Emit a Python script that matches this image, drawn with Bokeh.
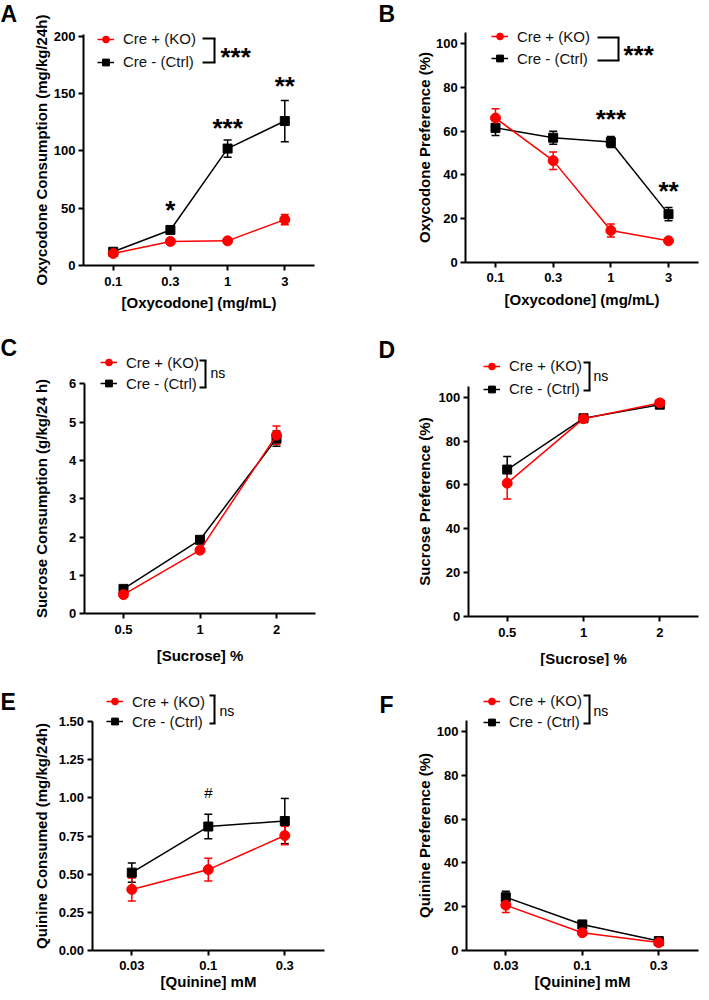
from bokeh.plotting import figure
from bokeh.layouts import column, row
from bokeh.models import (Range1d, FixedTicker, Whisker, TeeHead, ColumnDataSource,
                          Label, Arrow, Legend, LegendItem)
from bokeh.embed import file_html
from bokeh.resources import INLINE

FONT = "Liberation Sans"
RED = "#FF0000"
BLACK = "#000000"

# ---------------- data ----------------
oxy_conc = ["0.1", "0.3", "1", "3"]
oxy_cons_ko = [10.5, 21.0, 21.5, 40.0]
oxy_cons_ko_sem = [1.5, 1.5, 1.5, 4.5]
oxy_cons_ctrl = [12.0, 31.0, 102.0, 126.0]
oxy_cons_ctrl_sem = [1.5, 2.0, 7.5, 18.0]
oxy_cons_sig = ["", "*", "***", "**"]
oxy_cons_yticks = [0, 50, 100, 150, 200]

oxy_pref_ko = [66.0, 46.5, 14.5, 9.8]
oxy_pref_ko_sem = [4.3, 4.0, 3.0, 0.6]
oxy_pref_ctrl = [61.5, 57.0, 55.0, 22.0]
oxy_pref_ctrl_sem = [3.5, 3.0, 2.5, 3.0]
oxy_pref_sig = ["", "", "***", "**"]

pref_yticks = [0, 20, 40, 60, 80, 100]

suc_conc = ["0.5", "1", "2"]
suc_cons_ko = [0.50, 1.66, 4.66]
suc_cons_ko_sem = [0.05, 0.05, 0.24]
suc_cons_ctrl = [0.65, 1.93, 4.57]
suc_cons_ctrl_sem = [0.05, 0.06, 0.20]
suc_cons_yticks = [0, 1, 2, 3, 4, 5, 6]

suc_pref_ko = [60.8, 90.2, 97.4]
suc_pref_ko_sem = [7.2, 1.0, 0.8]
suc_pref_ctrl = [67.0, 90.4, 96.6]
suc_pref_ctrl_sem = [6.0, 1.0, 0.8]

qui_conc = ["0.03", "0.1", "0.3"]
qui_cons_ko = [0.40, 0.53, 0.753]
qui_cons_ko_sem = [0.075, 0.075, 0.06]
qui_cons_ctrl = [0.51, 0.812, 0.848]
qui_cons_ctrl_sem = [0.063, 0.08, 0.148]
qui_cons_sig = ["", "#", ""]
qui_cons_yticks = [0, 0.25, 0.5, 0.75, 1.0, 1.25, 1.5]
qui_cons_ytick_labels = ["0.00", "0.25", "0.50", "0.75", "1.00", "1.25", "1.50"]

qui_pref_ko = [20.7, 8.1, 3.6]
qui_pref_ko_sem = [3.4, 0.8, 0.5]
qui_pref_ctrl = [24.3, 11.9, 4.3]
qui_pref_ctrl_sem = [2.7, 1.2, 0.6]

group_labels = ["Cre + (KO)", "Cre - (Ctrl)"]

# where the layout's top-left corner lands in the picture
OX, OY = 8, 0


def make_panel(c):
    fx0, fy0, w, h = c["box"]           # picture position/size of the figure
    L, R, B, k = c["axes"]              # axis left, right, bottom (px), px per y unit
    c0, s = c["cats_px"]                # px of first category, px per category
    n = len(c["cats"])

    def dx(px):
        return (px - c0) / s

    def dy(py):
        return (B - py) / k

    p = figure(width=w, height=h, output_backend="svg", toolbar_location=None,
               x_range=Range1d(dx(fx0), dx(fx0 + w)), y_range=Range1d(dy(fy0 + h), dy(fy0)),
               min_border=0, min_border_left=0, min_border_right=0,
               min_border_top=0, min_border_bottom=0,
               background_fill_color="white", border_fill_color="white")
    p.title.visible = False
    p.outline_line_color = None
    p.grid.visible = False

    for ax in (p.xaxis[0], p.yaxis[0]):
        ax.axis_line_width = 2
        ax.axis_line_color = BLACK
        ax.major_tick_line_width = 2
        ax.major_tick_line_color = BLACK
        ax.major_tick_in = 0
        ax.major_tick_out = 5
        ax.minor_tick_line_color = None
        ax.major_label_text_font = FONT
        ax.major_label_text_font_style = "bold"
        ax.major_label_text_font_size = "13px"
        ax.major_label_text_color = BLACK
        ax.axis_label_text_font = FONT
        ax.axis_label_text_font_style = "bold"
        ax.axis_label_text_font_size = "15px"
        ax.axis_label_text_color = BLACK

    xa = p.xaxis[0]
    xa.fixed_location = 0
    xa.bounds = (dx(L), dx(R))
    xa.ticker = FixedTicker(ticks=list(range(n)))
    xa.major_label_overrides = {i: lab for i, lab in enumerate(c["cats"])}
    xa.major_label_standoff = c.get("xlso", 6)
    xa.axis_label = c["xtitle"]
    xa.axis_label_standoff = c["xstand"]

    ya = p.yaxis[0]
    ya.fixed_location = dx(L)
    ya.bounds = (0, c["ytop"])
    ya.ticker = FixedTicker(ticks=c["yticks"])
    if c.get("ylabels"):
        ya.major_label_overrides = {t: lab for t, lab in zip(c["yticks"], c["ylabels"])}
    ya.major_label_standoff = 3
    ya.axis_label = c["ytitle"]
    ya.axis_label_standoff = c["ystand"]

    xs = list(range(n))
    ko, ko_e, ct, ct_e = c["ko"], c["ko_e"], c["ct"], c["ct_e"]

    rends = {}
    for key, vals, errs, col, marker, size in (
            ("ct", ct, ct_e, BLACK, "square", 9),
            ("ko", ko, ko_e, RED, "circle", 10)):
        src = ColumnDataSource(dict(x=xs, y=vals,
                                    upper=[v + e for v, e in zip(vals, errs)],
                                    lower=[v - e for v, e in zip(vals, errs)]))
        wh = Whisker(base="x", upper="upper", lower="lower", source=src,
                     line_color=col, line_width=1.5,
                     upper_head=TeeHead(size=8, line_color=col, line_width=1.5),
                     lower_head=TeeHead(size=8, line_color=col, line_width=1.5))
        p.add_layout(wh)
        lr = p.line("x", "y", source=src, line_color=col, line_width=1.5)
        sr = p.scatter("x", "y", source=src, marker=marker, size=size,
                       fill_color=col, line_color=col)
        rends[key] = (lr, sr)

    # legend (location measured from the frame's bottom-left = figure's bottom-left)
    item_h = 18
    y1, y2 = c["leg_y"]
    sp = int(round(y2 - y1 - item_h))
    top = y1 - item_h / 2
    height = 2 * item_h + sp
    legend = Legend(items=[LegendItem(label=group_labels[0], renderers=list(rends["ko"])),
                           LegendItem(label=group_labels[1], renderers=list(rends["ct"]))],
                    location=(c["leg_x"] - fx0, (fy0 + h) - (top + height)),
                    orientation="vertical", padding=0, margin=0, spacing=sp,
                    glyph_width=17, glyph_height=item_h, label_height=item_h,
                    label_standoff=9, label_text_font=FONT, label_text_font_size="15px",
                    label_text_color="#111111",
                    background_fill_alpha=0, border_line_alpha=0)
    p.add_layout(legend, "center")

    # bracket joining the two legend entries
    bx0, bx1, byt, byb = c["bracket"]
    for (xa_, ya_, xb_, yb_) in ((bx0, byt, bx1 + 1, byt), (bx1, byt, bx1, byb),
                                 (bx0, byb, bx1 + 1, byb)):
        p.add_layout(Arrow(end=None, x_start=dx(xa_), y_start=dy(ya_), x_end=dx(xb_),
                           y_end=dy(yb_), line_color=BLACK, line_width=2))
    btx, bty = c["btext_xy"]
    p.add_layout(Label(x=dx(btx), y=dy(bty), text=c["btext"], text_font=FONT,
                       text_font_size=c["btext_size"], text_font_style=c["btext_style"],
                       text_align="left", text_baseline="middle", text_color=BLACK))

    # panel letter
    lx, ly = c["letter_xy"]
    p.add_layout(Label(x=dx(lx), y=dy(ly), text=c["letter"], text_font=FONT,
                       text_font_size="23px", text_font_style="bold",
                       text_align="left", text_baseline="middle", text_color=BLACK))

    # significance marks above the points
    sig = c.get("sig")
    if sig:
        for i, mark in enumerate(sig):
            if not mark:
                continue
            ytop = max(ko[i] + ko_e[i], ct[i] + ct_e[i])
            p.add_layout(Label(x=i, y=ytop, y_offset=c["sig_off"][i], text=mark,
                               text_font=FONT, text_font_size=c["sig_size"],
                               text_font_style=c["sig_style"], text_align="center",
                               text_baseline="alphabetic", text_color=BLACK))
    return p


W1, W2 = 346, 354
H1, H2, H3 = 333, 333, 326
X1, X2 = OX, OX + W1
Y1, Y2, Y3 = OY, OY + H1, OY + H1 + H2

panels = [
    dict(box=(X1, Y1, W1, H1), axes=(91, 322, 265, 229.3 / 200), cats_px=(120.7, 57.2),
         cats=oxy_conc, ytop=201.5, yticks=oxy_cons_yticks,
         xtitle="[Oxycodone] (mg/mL)", ytitle="Oxycodone Consumption (mg/kg/24h)",
         ystand=1, xstand=5,
         ko=oxy_cons_ko, ko_e=oxy_cons_ko_sem, ct=oxy_cons_ctrl, ct_e=oxy_cons_ctrl_sem,
         leg_x=105, leg_y=(38.5, 61.5), bracket=(210, 222, 38, 62), btext="***",
         btext_xy=(228, 56), btext_size="26px", btext_style="bold",
         letter="A", letter_xy=(8, 13),
         sig=oxy_cons_sig, sig_off=[0, 18, 12, 14], sig_size="26px", sig_style="bold"),
    dict(box=(X2, Y1, W2, H1), axes=(473.3, 705.7, 261.7, 218.4 / 100), cats_px=(503, 57.67),
         cats=oxy_conc, ytop=105, yticks=pref_yticks,
         xtitle="[Oxycodone] (mg/mL)", ytitle="Oxycodone Preference (%)",
         ystand=0, xstand=5,
         ko=oxy_pref_ko, ko_e=oxy_pref_ko_sem, ct=oxy_pref_ctrl, ct_e=oxy_pref_ctrl_sem,
         leg_x=499, leg_y=(36, 58.5), bracket=(605, 626, 37, 60), btext="***",
         btext_xy=(631, 54), btext_size="26px", btext_style="bold",
         letter="B", letter_xy=(386, 13),
         sig=oxy_pref_sig, sig_off=[0, 0, 18, 17], sig_size="26px", sig_style="bold"),
    dict(box=(X1, Y2, W1, H2), axes=(91.7, 323.3, 613.3, 230 / 6), cats_px=(131, 76.5),
         cats=suc_conc, ytop=6, yticks=suc_cons_yticks,
         xtitle="[Sucrose] %", ytitle="Sucrose Consumption (g/kg/24 h)",
         ystand=16, xstand=10,
         ko=suc_cons_ko, ko_e=suc_cons_ko_sem, ct=suc_cons_ctrl, ct_e=suc_cons_ctrl_sem,
         leg_x=108, leg_y=(362.3, 383.3), bracket=(207, 213, 360, 387), btext="ns",
         btext_xy=(218, 372), btext_size="14px", btext_style="normal",
         letter="C", letter_xy=(8, 347)),
    dict(box=(X2, Y2, W2, H2), axes=(475.7, 706.3, 616, 219.3 / 100), cats_px=(514.7, 76.3),
         cats=suc_conc, ytop=105, yticks=pref_yticks,
         xtitle="[Sucrose] %", ytitle="Sucrose Preference (%)",
         ystand=3, xstand=10,
         ko=suc_pref_ko, ko_e=suc_pref_ko_sem, ct=suc_pref_ctrl, ct_e=suc_pref_ctrl_sem,
         leg_x=491, leg_y=(365.7, 388.3), bracket=(591, 597, 362, 390), btext="ns",
         btext_xy=(601, 375), btext_size="14px", btext_style="normal",
         letter="D", letter_xy=(386, 349)),
    dict(box=(X1, Y3, W1, H3), axes=(99.5, 331.7, 950, 229 / 1.5), cats_px=(139.3, 76.5),
         cats=qui_conc, ytop=1.5, yticks=qui_cons_yticks, ylabels=qui_cons_ytick_labels,
         xtitle="[Quinine] mM", ytitle="Quinine Consumed (mg/kg/24h)",
         ystand=6, xstand=0, xlso=5,
         ko=qui_cons_ko, ko_e=qui_cons_ko_sem, ct=qui_cons_ctrl, ct_e=qui_cons_ctrl_sem,
         leg_x=114, leg_y=(701, 721), bracket=(217, 222, 695, 723), btext="ns",
         btext_xy=(227, 710), btext_size="14px", btext_style="normal",
         letter="E", letter_xy=(8, 701),
         sig=qui_cons_sig, sig_off=[0, 22, 0], sig_size="15px", sig_style="normal"),
    dict(box=(X2, Y3, W2, H3), axes=(474, 705.7, 950, 219 / 100), cats_px=(513.3, 76.5),
         cats=qui_conc, ytop=105, yticks=pref_yticks,
         xtitle="[Quinine] mM", ytitle="Quinine Preference (%)",
         ystand=1, xstand=0, xlso=5,
         ko=qui_pref_ko, ko_e=qui_pref_ko_sem, ct=qui_pref_ctrl, ct_e=qui_pref_ctrl_sem,
         leg_x=491, leg_y=(700.7, 721.7), bracket=(591, 597, 695, 723), btext="ns",
         btext_xy=(601, 710), btext_size="14px", btext_style="normal",
         letter="F", letter_xy=(387, 704)),
]

figs = [make_panel(c) for c in panels]
layout = column(row(figs[0], figs[1]), row(figs[2], figs[3]), row(figs[4], figs[5]))

open("out.html", "w").write(file_html(layout, INLINE))
